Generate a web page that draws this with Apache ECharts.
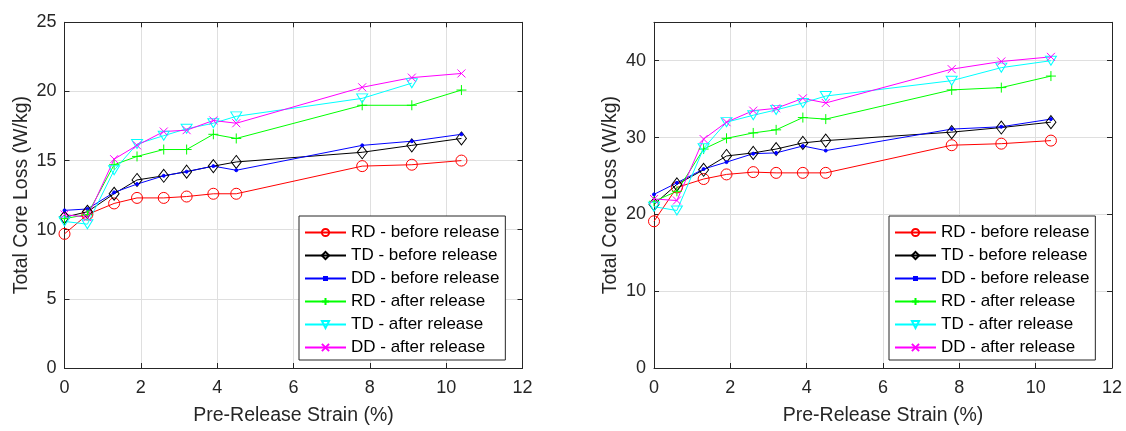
<!DOCTYPE html>
<html>
<head>
<meta charset="utf-8">
<script src="https://cdn.jsdelivr.net/npm/echarts@6/dist/echarts.min.js"></script>
<style>html,body{margin:0;padding:0;background:#fff;}#c{width:1126px;height:431px;}</style>
</head>
<body>
<div id="c"></div>
<script>
// ---- data ----
const strain = [0, 0.6, 1.3, 1.9, 2.6, 3.2, 3.9, 4.5, 7.8, 9.1, 10.4];
const seriesNames = ['RD - before release','TD - before release','DD - before release','RD - after release','TD - after release','DD - after release'];
const xTicks = [0, 2, 4, 6, 8, 10, 12];

// left panel
const rdBeforeA = [9.7, 11.1, 11.9, 12.3, 12.3, 12.4, 12.6, 12.6, 14.6, 14.7, 15.0];
const tdBeforeA = [10.9, 11.3, 12.6, 13.6, 13.9, 14.2, 14.6, 14.9, 15.6, 16.1, 16.6];
const ddBeforeA = [11.4, 11.5, 12.7, 13.3, 13.9, 14.2, 14.6, 14.3, 16.1, 16.4, 16.9];
const rdAfterA  = [10.8, 11.1, 14.7, 15.3, 15.8, 15.8, 16.9, 16.6, 19.0, 19.0, 20.1];
const tdAfterA  = [10.6, 10.4, 14.3, 16.2, 16.8, 17.3, 17.7, 18.2, 19.5, 20.6, null];
const ddAfterA  = [11.1, 10.9, 15.1, 16.1, 17.1, 17.2, 17.9, 17.7, 20.3, 21.0, 21.3];
const yTicksA = [0, 5, 10, 15, 20, 25];

// right panel
const rdBeforeB = [19.1, 23.5, 24.6, 25.2, 25.5, 25.4, 25.4, 25.4, 29.0, 29.2, 29.6];
const tdBeforeB = [21.3, 23.9, 25.8, 27.6, 28.0, 28.5, 29.3, 29.6, 30.7, 31.3, 32.0];
const ddBeforeB = [22.6, 24.1, 25.9, 26.8, 27.9, 28.0, 28.9, 28.3, 31.1, 31.4, 32.4];
const rdAfterB  = [21.7, 23.0, 28.5, 29.9, 30.6, 31.0, 32.6, 32.4, 36.2, 36.5, 38.0];
const tdAfterB  = [21.0, 20.5, 28.6, 32.0, 32.9, 33.6, 34.5, 35.4, 37.4, 39.1, 40.0];
const ddAfterB  = [22.0, 21.8, 29.8, 32.0, 33.5, 33.8, 35.1, 34.5, 38.9, 39.9, 40.5];
const yTicksB = [0, 10, 20, 30, 40];

const xTitle = 'Pre-Release Strain (%)';
const yTitle = 'Total Core Loss (W/kg)';

// ---- styles ----
const FONT = '"Liberation Sans", Arial, sans-serif';
const TXT = '#262626';
const styles = [
  {color:'#ff0000', symbol:'path://M10 5 A5 5 0 1 1 0 5 A5 5 0 1 1 10 5 Z', size:11},
  {color:'#000000', symbol:'path://M5 0 L10 7 L5 14 L0 7 Z', size:[10,13]},
  {color:'#0000ff', symbol:'circle', size:3, solid:true,
   legendIcon:'path://M0 4.5 L41 4.5 M19 3 L22 3 L22 6 L19 6 Z'},
  {color:'#00ff00', symbol:'path://M5 0 L5 10 M0 5 L10 5', size:10},
  {color:'#00ffff', symbol:'path://M0 0 L11 0 L5.5 9 Z', size:[11,9]},
  {color:'#ff00ff', symbol:'path://M0 0 L10 10 M0 10 L10 0', size:8}
];

function pairs(vals){ return strain.map((x,i)=> [x, vals[i]]); }

function mkSeries(sets, axisIdx){
  return sets.map((vals,i)=>{
    const s = styles[i];
    return {
      type:'line', name: seriesNames[i], xAxisIndex: axisIdx, yAxisIndex: axisIdx,
      data: pairs(vals), symbol: s.symbol, symbolSize: s.size,
      showAllSymbol:true, connectNulls:false, animation:false,
      lineStyle:{color:s.color, width:1},
      itemStyle:{color: s.solid ? s.color : 'rgba(0,0,0,0)', borderColor:s.color, borderWidth:1},
      emphasis:{disabled:true}
    };
  });
}

const grids = [
  {left:64.5, top:22.3, width:458, height:351},
  {left:654, top:22.3, width:458, height:351}
];

function xAxes(gi){
  const base = {type:'value', gridIndex:gi, min:0, max:12, interval:2,
    axisLine:{show:true, onZero:false, lineStyle:{color:TXT, width:1}},
    axisTick:{show:true, inside:true, length:5, lineStyle:{color:TXT}},
    splitLine:{show:false}};
  return [
    Object.assign({}, base, {position:'bottom',
      splitLine:{show:true, lineStyle:{color:'#dfdfdf', width:1}},
      axisLabel:{show:true, margin:11, fontSize:18, color:TXT, fontFamily:FONT},
      name:xTitle, nameLocation:'middle', nameGap:38,
      nameTextStyle:{fontSize:19.5, color:TXT, fontFamily:FONT}}),
    Object.assign({}, base, {position:'top', axisLabel:{show:false}})
  ];
}
function yAxes(gi, max, interval){
  const base = {type:'value', gridIndex:gi, min:0, max:max, interval:interval,
    axisLine:{show:true, onZero:false, lineStyle:{color:TXT, width:1}},
    axisTick:{show:true, inside:true, length:5, lineStyle:{color:TXT}},
    splitLine:{show:false}};
  return [
    Object.assign({}, base, {position:'left',
      splitLine:{show:true, lineStyle:{color:'#dfdfdf', width:1}},
      axisLabel:{show:true, margin:8, fontSize:18, color:TXT, fontFamily:FONT, showMaxLabel: max % interval === 0},
      name:yTitle, nameLocation:'middle', nameGap:33, nameRotate:90,
      nameTextStyle:{fontSize:19.5, color:TXT, fontFamily:FONT}}),
    Object.assign({}, base, {position:'right', axisLabel:{show:false}})
  ];
}

function mkLegend(left){
  return {
    data: seriesNames.map((n,i)=> styles[i].legendIcon ? {name:n, icon:styles[i].legendIcon} : {name:n}),
    orient:'vertical', left:left, top:216,
    backgroundColor:'#fff', borderColor:'#262626', borderWidth:1,
    padding:[8,6,4,5], itemGap:6, itemWidth:41, itemHeight:9,
    selectedMode:false,
    textStyle:{fontSize:17, color:'#000', fontFamily:FONT}
  };
}

const chart = echarts.init(document.getElementById('c'), null, {renderer:'canvas'});
chart.setOption({
  backgroundColor:'#fff',
  animation:false,
  grid: grids,
  xAxis: [...xAxes(0), ...xAxes(1)],
  yAxis: [...yAxes(0, yTicksA[yTicksA.length-1], yTicksA[1]-yTicksA[0]), ...yAxes(1, 45, yTicksB[1]-yTicksB[0])],
  legend: [mkLegend(299), mkLegend(889)],
  series: [
    ...mkSeries([rdBeforeA, tdBeforeA, ddBeforeA, rdAfterA, tdAfterA, ddAfterA], 0),
    ...mkSeries([rdBeforeB, tdBeforeB, ddBeforeB, rdAfterB, tdAfterB, ddAfterB], 2)
  ]
});
</script>
</body>
</html>
